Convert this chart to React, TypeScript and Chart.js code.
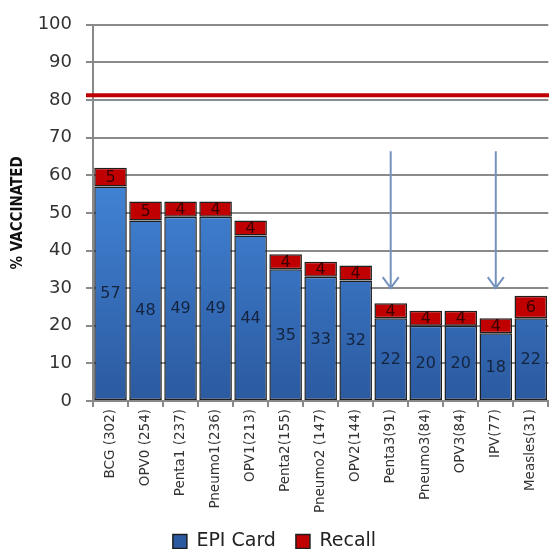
import React, { useEffect, useRef } from "react";
import { Chart, registerables } from "chart.js";

Chart.register(...registerables);

const categories = [
  "BCG (302)", "OPV0 (254)", "Penta1 (237)", "Pneumo1(236)", "OPV1(213)", "Penta2(155)",
  "Pneumo2 (147)", "OPV2(144)", "Penta3(91)", "Pneumo3(84)", "OPV3(84)", "IPV(77)", "Measles(31)",
];
const epiCard = [57, 48, 49, 49, 44, 35, 33, 32, 22, 20, 20, 18, 22];
const recall = [5, 5, 4, 4, 4, 4, 4, 4, 4, 4, 4, 4, 6];
const targetLine = 81.3;
const arrowCategories = ["Penta3(91)", "IPV(77)"];
const arrowFrom = 66.4;
const arrowTo = 30;

const FONT = "'DejaVu Sans', Verdana, sans-serif";

const overlayPlugin = {
  id: "overlay",
  afterDatasetsDraw(chart: any) {
    const ctx = chart.ctx;
    const x = chart.scales.x;
    const y = chart.scales.y;
    const ca = chart.chartArea;
    // value labels
    chart.data.datasets.forEach((ds: any, di: number) => {
      const meta = chart.getDatasetMeta(di);
      meta.data.forEach((bar: any, i: number) => {
        const v = ds.data[i];
        ctx.save();
        ctx.font = "16px " + FONT;
        ctx.fillStyle = di === 0 ? "#14243f" : "#3a0000";
        ctx.textAlign = "center";
        ctx.textBaseline = "middle";
        ctx.fillText(String(v), bar.x, (bar.y + bar.base) / 2 + 1);
        ctx.restore();
      });
    });
    // target line
    const ty = y.getPixelForValue(targetLine);
    ctx.save();
    ctx.strokeStyle = "#c00000";
    ctx.lineWidth = 4;
    ctx.beginPath();
    ctx.moveTo(ca.left - 7, ty);
    ctx.lineTo(chart.width, ty);
    ctx.stroke();
    ctx.restore();
    // arrows
    arrowCategories.forEach((c) => {
      const ax = x.getPixelForValue(categories.indexOf(c));
      const y1 = y.getPixelForValue(arrowFrom);
      const y2 = y.getPixelForValue(arrowTo);
      ctx.save();
      ctx.strokeStyle = "#7592bd";
      ctx.lineWidth = 2;
      ctx.beginPath();
      ctx.moveTo(ax, y1);
      ctx.lineTo(ax, y2);
      ctx.moveTo(ax - 8, y2 - 11);
      ctx.lineTo(ax, y2);
      ctx.lineTo(ax + 8, y2 - 11);
      ctx.stroke();
      ctx.restore();
    });
  },
};

function blueFill(context: any) {
  const chart = context.chart;
  const ca = chart.chartArea;
  if (!ca) return "#3a78c8";
  const g = chart.ctx.createLinearGradient(0, ca.top + 150, 0, ca.bottom);
  g.addColorStop(0, "#4284d6");
  g.addColorStop(1, "#2b5aa0");
  return g;
}

export default function App() {
  const ref = useRef<HTMLCanvasElement>(null);
  useEffect(() => {
    if (!ref.current) return;
    const chart = new Chart(ref.current, {
      type: "bar",
      data: {
        labels: categories,
        datasets: [
          {
            label: "EPI Card",
            data: epiCard,
            backgroundColor: blueFill,
            borderColor: "#1e1e1e",
            borderWidth: 1.5,
            borderSkipped: false,
            barPercentage: 0.93,
            categoryPercentage: 1,
          },
          {
            label: "Recall",
            data: recall,
            backgroundColor: "#c00000",
            borderColor: "#1e1e1e",
            borderWidth: 1.5,
            borderSkipped: false,
            barPercentage: 0.93,
            categoryPercentage: 1,
          },
        ],
      },
      options: {
        animation: false,
        responsive: true,
        maintainAspectRatio: false,
        layout: { padding: { top: 22, left: 0, right: 0, bottom: -12 } },
        plugins: {
          tooltip: { enabled: false },
          legend: {
            position: "bottom",
            labels: {
              font: { family: FONT, size: 19 },
              color: "#222",
              boxWidth: 14,
              boxHeight: 14,
              padding: 20,
            },
          },
        },
        scales: {
          x: {
            stacked: true,
            offset: true,
            grid: {
              display: true,
              offset: true,
              drawOnChartArea: false,
              drawTicks: true,
              tickLength: 6,
              color: "#888",
              lineWidth: 2,
            },
            border: { color: "#888", width: 2 },
            ticks: {
              minRotation: 90,
              maxRotation: 90,
              autoSkip: false,
              padding: 2,
              font: { family: FONT, size: 13.5 },
              color: "#333",
            },
            afterFit(scale: any) {
              scale.height = 111;
            },
          },
          y: {
            stacked: true,
            min: 0,
            max: 100,
            ticks: {
              stepSize: 10,
              font: { family: FONT, size: 18 },
              color: "#333",
              padding: 14,
            },
            grid: { color: "#8a8a8a", lineWidth: 2, tickLength: 7 },
            border: { color: "#888", width: 2 },
            title: {
              display: true,
              text: "% VACCINATED",
              font: { family: "'Liberation Sans Narrow', 'DejaVu Sans Condensed', Arial, sans-serif", size: 15, weight: "bold" },
              color: "#111",
              padding: { top: 9, bottom: 0 },
            },
            afterFit(scale: any) {
              scale.width = 93;
            },
          },
        },
      },
      plugins: [overlayPlugin],
    } as any);
    return () => chart.destroy();
  }, []);
  return (
    <div style={{ position: "absolute", left: 0, top: 0, width: 549, height: 549, background: "#fff" }}>
      <canvas ref={ref} />
    </div>
  );
}
